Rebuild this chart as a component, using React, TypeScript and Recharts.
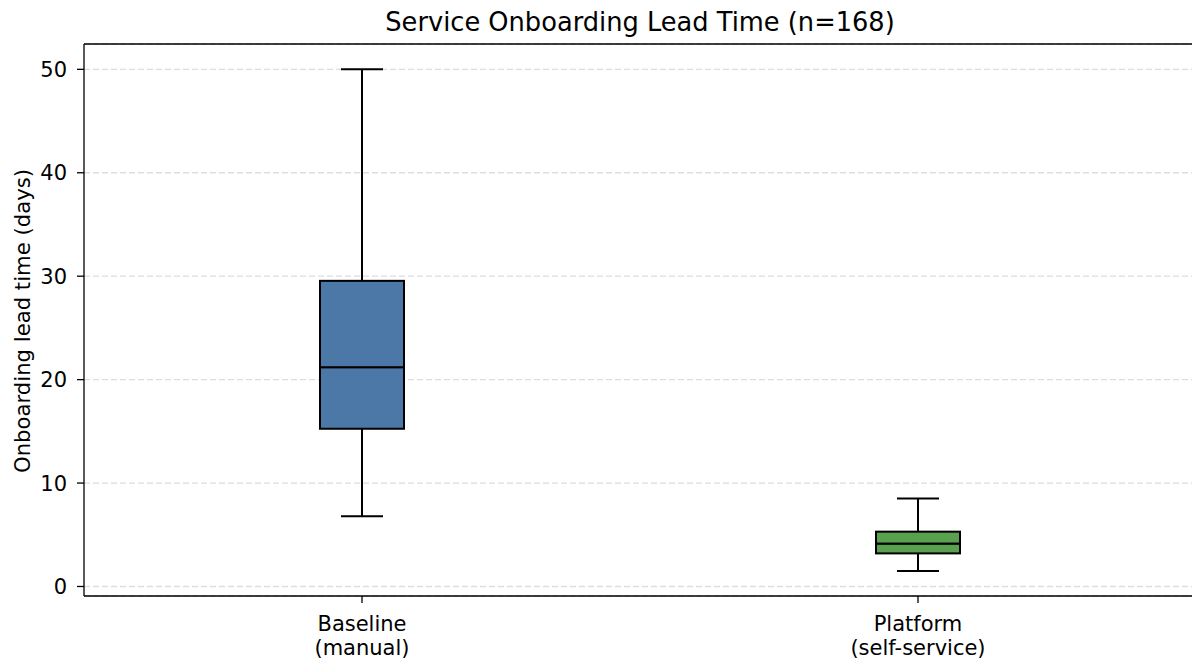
import React from 'react';
import { Bar, CartesianGrid, ComposedChart, Customized, ReferenceLine, XAxis, YAxis } from 'recharts';

// box plot stats (days)
const groups = ['Baseline\n(manual)', 'Platform\n(self-service)'];
const mins = [6.8, 1.5];
const q1s = [15.25, 3.2];
const medians = [21.2, 4.15];
const q3s = [29.55, 5.3];
const maxs = [50, 8.5];
const boxColors = ['#4c78a8', '#59a14f'];
const yTicks = [0, 10, 20, 30, 40, 50];

const FONT = '"DejaVu Sans", sans-serif';

// stacked segments so the library's y scale places every piece
const rows = groups.map((g, i) => ({
    group: g,
    base: mins[i],
    lowWhisker: q1s[i] - mins[i],
    lowBox: medians[i] - q1s[i],
    highBox: q3s[i] - medians[i],
    highWhisker: maxs[i] - q3s[i],
}));

const Empty = () => <g />;

const BoxPart = (props: any) => {
    const { x, y, width, height, index } = props;
    return <rect x={x} y={y} width={width} height={height} fill={boxColors[index]} stroke="#000" strokeWidth={2} />;
};

const LowWhisker = (props: any) => {
    const { x, y, width, height } = props;
    const cx = x + width / 2;
    const bottom = y + height;
    return (
        <g stroke="#000" strokeWidth={2}>
            <line x1={cx} x2={cx} y1={y} y2={bottom} />
            <line x1={cx - width / 4} x2={cx + width / 4} y1={bottom} y2={bottom} />
        </g>
    );
};

const HighWhisker = (props: any) => {
    const { x, y, width, height } = props;
    const cx = x + width / 2;
    return (
        <g stroke="#000" strokeWidth={2}>
            <line x1={cx} x2={cx} y1={y} y2={y + height} />
            <line x1={cx - width / 4} x2={cx + width / 4} y1={y} y2={y} />
        </g>
    );
};

const CategoryTick = (props: any) => {
    const { x, y, payload } = props;
    const lines = String(payload.value).split('\n');
    return (
        <text x={x} y={y} textAnchor="middle" fontFamily={FONT} fontSize={21} fill="#000">
            {lines.map((l, i) => (
                <tspan key={i} x={x} dy={i === 0 ? 26 : 24}>{l}</tspan>
            ))}
        </text>
    );
};

const Title = () => (
    <text x={640} y={31} textAnchor="middle" fontFamily={FONT} fontSize={25.7} fill="#000">
        Service Onboarding Lead Time (n=168)
    </text>
);

const YLabel = () => (
    <text x={30} y={321} transform="rotate(-90, 30, 321)" textAnchor="middle" fontFamily={FONT} fontSize={21.2} fill="#000">
        Onboarding lead time (days)
    </text>
);

export default function App() {
    return (
        <div style={{ position: 'absolute', left: 0, top: 0, width: 1192, height: 660, overflow: 'hidden', background: '#fff' }}>
            <ComposedChart width={1202} height={660} data={rows} margin={{ top: 44, right: 6, bottom: 0, left: 24 }} barCategoryGap={0}>
                <CartesianGrid vertical={false} stroke="#dddddd" strokeDasharray="6 3" strokeWidth={1.3} />
                <XAxis
                    dataKey="group"
                    height={64}
                    tick={<CategoryTick />}
                    tickSize={7}
                    stroke="#000"
                    strokeWidth={1.3}
                    tickLine={{ stroke: '#000', strokeWidth: 1.3 }}
                />
                <YAxis
                    width={60}
                    domain={[-0.92, 52.45]}
                    ticks={yTicks}
                    allowDataOverflow
                    tickSize={7}
                    tickMargin={10}
                    stroke="#000"
                    strokeWidth={1.3}
                    tick={{ fontFamily: FONT, fontSize: 21, fill: '#000' }}
                    label={<YLabel />}
                />
                <ReferenceLine y={52.45} stroke="#000" strokeWidth={1.3} />
                <Bar dataKey="base" stackId="b" barSize={84} shape={<Empty />} isAnimationActive={false} />
                <Bar dataKey="lowWhisker" stackId="b" barSize={84} shape={<LowWhisker />} isAnimationActive={false} />
                <Bar dataKey="lowBox" stackId="b" barSize={84} shape={<BoxPart />} isAnimationActive={false} />
                <Bar dataKey="highBox" stackId="b" barSize={84} shape={<BoxPart />} isAnimationActive={false} />
                <Bar dataKey="highWhisker" stackId="b" barSize={84} shape={<HighWhisker />} isAnimationActive={false} />
                <Customized component={<Title />} />
            </ComposedChart>
        </div>
    );
}
